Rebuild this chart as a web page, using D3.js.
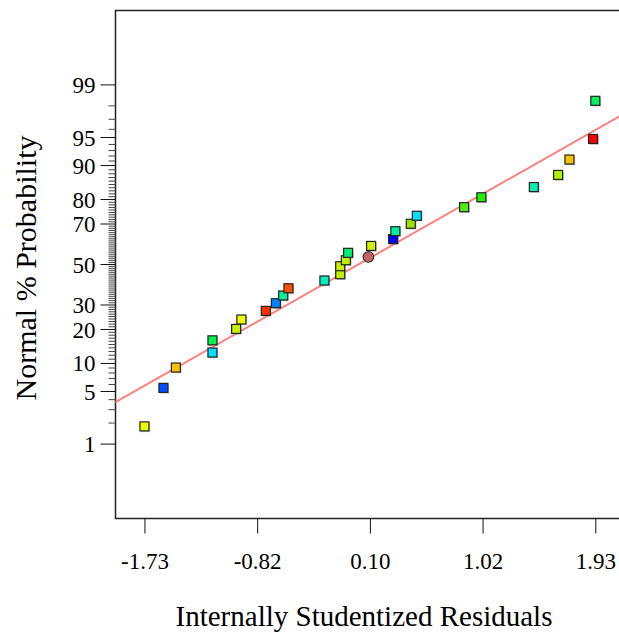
<!DOCTYPE html>
<html>
<head>
<meta charset="utf-8">
<script src="https://cdn.jsdelivr.net/npm/d3@7"></script>
<style>
  html, body { margin: 0; padding: 0; background: #fff; }
  svg { display: block; }
</style>
</head>
<body>
<svg id="chart" width="619" height="637"></svg>
<script>
// residuals (x) and normal % probability (y)
const residuals = [
  -1.73, -1.576, -1.475, -1.178, -1.178, -0.986, -0.943, -0.745, -0.663, -0.604,
  -0.561, -0.269, -0.141, -0.141, -0.095, 0.088, -0.077, 0.110, 0.289, 0.307,
  0.432, 0.481, 0.865, 1.005, 1.431, 1.628, 1.720, 1.912, 1.93
];
const probabilities = [
  1.8, 5.5, 9.1, 12.7, 16.3, 20.2, 23.8, 27.4, 30.8, 34.4,
  37.9, 41.8, 45.0, 49.1, 52.2, 53.9, 56.0, 59.5, 62.9, 66.7,
  70.1, 73.6, 77.1, 80.8, 84.2, 87.7, 91.3, 94.8, 98.3
];
const pointColors = [
  "#e8ff00", "#0050ff", "#ffc000", "#00e0ff", "#00f050", "#c8f000", "#f0ff00", "#ff3000", "#0080ff", "#00f0a0",
  "#ff5000", "#00f0c0", "#c0f000", "#c8f000", "#c0f000", "#c06666", "#00f070", "#d0f000", "#0000ff", "#00f0a0",
  "#a0e000", "#00e0ff", "#50f000", "#20f000", "#00f0b0", "#b0f000", "#ffc000", "#ff0000", "#00f060"
];
const circlePoint = 15;

// fitted normal line
const lineMean = 0.0054;
const lineSd = 1.1055;

const xTickValues = [-1.73, -0.815, 0.10, 1.015, 1.93];
const xTickLabels = ["-1.73", "-0.82", "0.10", "1.02", "1.93"];
const yMajorTicks = [1, 5, 10, 20, 30, 50, 70, 80, 90, 95, 99];
const yMinorTicks = d3.range(1, 100);

// inverse standard normal cdf (Acklam)
function probit(p) {
  const a = [-39.69683028665376, 220.9460984245205, -275.9285104469687, 138.3577518672690, -30.66479806614716, 2.506628277459239];
  const b = [-54.47609879822406, 161.5858368580409, -155.6989798598866, 66.80131188771972, -13.28068155288572];
  const c = [-0.007784894002430293, -0.3223964580411365, -2.400758277161838, -2.549732539343734, 4.374664141464968, 2.938163982698783];
  const d = [0.007784695709041462, 0.3224671290700398, 2.445134137142996, 3.754408661907416];
  const pl = 0.02425;
  let q, r;
  if (p < pl) {
    q = Math.sqrt(-2 * Math.log(p));
    return (((((c[0]*q+c[1])*q+c[2])*q+c[3])*q+c[4])*q+c[5]) / ((((d[0]*q+d[1])*q+d[2])*q+d[3])*q+1);
  } else if (p <= 1 - pl) {
    q = p - 0.5; r = q * q;
    return (((((a[0]*r+a[1])*r+a[2])*r+a[3])*r+a[4])*r+a[5])*q / (((((b[0]*r+b[1])*r+b[2])*r+b[3])*r+b[4])*r+1);
  }
  q = Math.sqrt(-2 * Math.log(1 - p));
  return -(((((c[0]*q+c[1])*q+c[2])*q+c[3])*q+c[4])*q+c[5]) / ((((d[0]*q+d[1])*q+d[2])*q+d[3])*q+1);
}

const margin = { top: 10.5, left: 115.5, bottom: 518.5 };
const plotRight = 624.5;
const font = "'Liberation Serif', 'Times New Roman', serif";

const svg = d3.select("#chart");

const xScale = d3.scaleLinear()
  .domain([-1.965, 2.167])
  .range([margin.left, plotRight]);

const zScale = d3.scaleLinear()
  .domain([-3.29, 3.29])
  .range([margin.bottom, margin.top]);

const yScale = pct => zScale(probit(pct / 100));

// frame
svg.append("rect")
  .attr("x", margin.left)
  .attr("y", margin.top)
  .attr("width", plotRight - margin.left)
  .attr("height", margin.bottom - margin.top)
  .attr("fill", "none")
  .attr("stroke", "#222")
  .attr("stroke-width", 1.5);

// y ticks
svg.append("g")
  .selectAll("line")
  .data(yMinorTicks)
  .enter()
  .append("line")
  .attr("x1", d => yMajorTicks.includes(d) ? margin.left - 15 : margin.left - 7)
  .attr("x2", margin.left)
  .attr("y1", d => yScale(d))
  .attr("y2", d => yScale(d))
  .attr("stroke", d => yMajorTicks.includes(d) ? "#111" : "#444")
  .attr("stroke-width", 1);

svg.append("g")
  .selectAll("text")
  .data(yMajorTicks)
  .enter()
  .append("text")
  .attr("x", margin.left - 20)
  .attr("y", d => yScale(d))
  .attr("dy", "0.35em")
  .attr("text-anchor", "end")
  .style("font-family", font)
  .style("font-size", "23px")
  .text(d => d);

// x axis
const xAxis = d3.axisBottom(xScale)
  .tickValues(xTickValues)
  .tickFormat((d, i) => xTickLabels[i])
  .tickSize(15)
  .tickPadding(19);

const gx = svg.append("g")
  .attr("transform", `translate(0, ${margin.bottom})`)
  .call(xAxis);
gx.select(".domain").remove();
gx.selectAll("line").attr("stroke", "#111");
gx.selectAll("text")
  .style("font-family", font)
  .style("font-size", "23px")
  .attr("fill", "#000");

// normal line
const lineX = xScale.domain();
svg.append("line")
  .attr("x1", xScale(lineX[0]))
  .attr("y1", zScale((lineX[0] - lineMean) / lineSd))
  .attr("x2", xScale(lineX[1]))
  .attr("y2", zScale((lineX[1] - lineMean) / lineSd))
  .attr("stroke", "#ff7f7f")
  .attr("stroke-width", 2);

// points
const points = residuals.map((r, i) => ({ r, p: probabilities[i], color: pointColors[i], circle: i === circlePoint }));
const s = 9;

const gp = svg.append("g");
gp.selectAll("rect.shadow")
  .data(points.filter(d => !d.circle))
  .enter()
  .append("rect")
  .attr("class", "shadow")
  .attr("x", d => xScale(d.r) - s / 2 + 1.2)
  .attr("y", d => yScale(d.p) - s / 2 + 1.2)
  .attr("width", s)
  .attr("height", s)
  .attr("fill", "#999")
  .attr("opacity", 0.55);

gp.selectAll("rect.pt")
  .data(points.filter(d => !d.circle))
  .enter()
  .append("rect")
  .attr("class", "pt")
  .attr("x", d => xScale(d.r) - s / 2)
  .attr("y", d => yScale(d.p) - s / 2)
  .attr("width", s)
  .attr("height", s)
  .attr("fill", d => d.color)
  .attr("stroke", "#222")
  .attr("stroke-width", 1.2);

gp.selectAll("circle")
  .data(points.filter(d => d.circle))
  .enter()
  .append("circle")
  .attr("cx", d => xScale(d.r))
  .attr("cy", d => yScale(d.p))
  .attr("r", 5.3)
  .attr("fill", d => d.color)
  .attr("stroke", "#333")
  .attr("stroke-width", 1.2);

// titles
svg.append("text")
  .attr("x", 364)
  .attr("y", 626)
  .attr("text-anchor", "middle")
  .style("font-family", font)
  .style("font-size", "29px")
  .text("Internally Studentized Residuals");

svg.append("text")
  .attr("transform", "translate(36, 268) rotate(-90)")
  .attr("text-anchor", "middle")
  .style("font-family", font)
  .style("font-size", "30px")
  .text("Normal % Probability");
</script>
</body>
</html>
